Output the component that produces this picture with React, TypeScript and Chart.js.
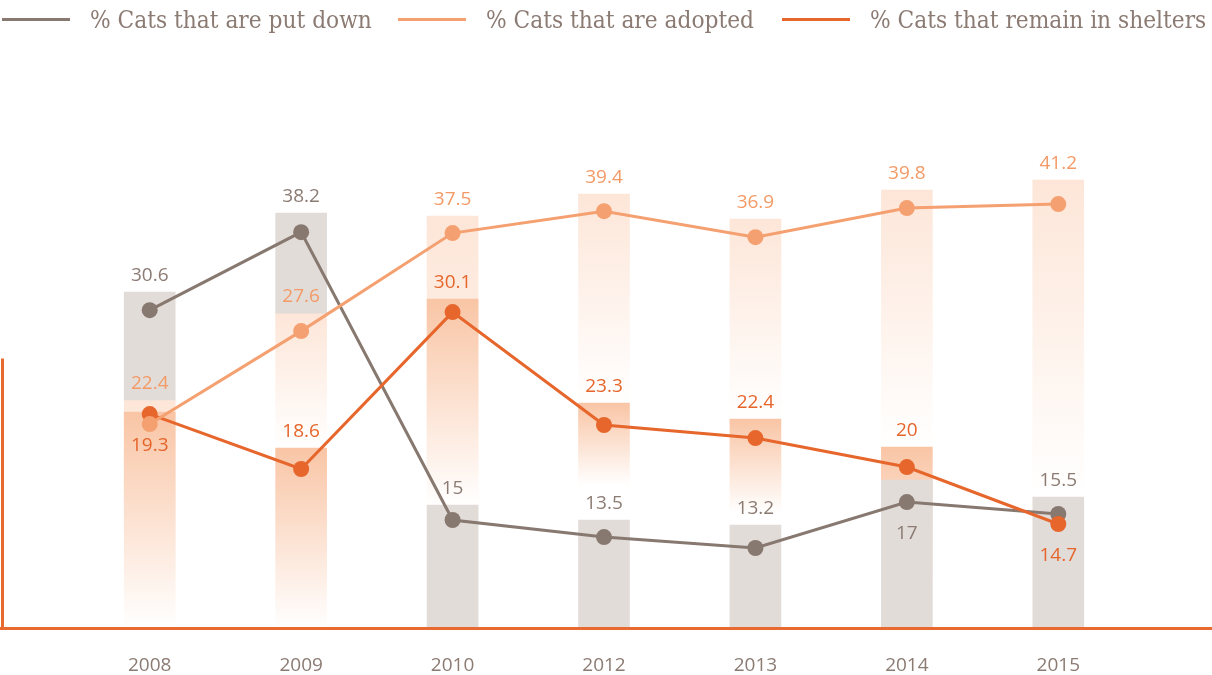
import React, { useEffect, useRef } from "react";
import { Chart, registerables } from "chart.js";

Chart.register(...registerables);

// ---------- data ----------
const years = ["2008", "2009", "2010", "2012", "2013", "2014", "2015"];

const seriesNames = [
  "% Cats that are put down",
  "% Cats that are adopted",
  "% Cats that remain in shelters",
];

// line points
const putDown = [29.25, 36.43, 9.94, 8.37, 7.36, 11.59, 10.49];
const adopted = [18.77, 27.32, 36.34, 38.36, 35.97, 38.64, 39.01];
const remain = [19.69, 14.63, 29.07, 18.68, 17.48, 14.81, 9.57];

// printed values
const putDownText = ["30.6", "38.2", "15", "13.5", "13.2", "17", "15.5"];
const adoptedText = ["22.4", "27.6", "37.5", "39.4", "36.9", "39.8", "41.2"];
const remainText = ["19.3", "18.6", "30.1", "23.3", "22.4", "20", "14.7"];

// column segments behind the lines [from, to]
const putDownBars: ([number, number] | null)[] = [
  [20.98, 30.91], [28.98, 38.18], [0, 11.32], [0, 9.94], [0, 9.48], [0, 13.62], [0, 12.05],
];
const adoptedBars: ([number, number] | null)[] = [
  [0, 20.98], [16.56, 28.98], [0, 37.9], [20.7, 39.93], [19.23, 37.63], [16.65, 40.29], [12.05, 41.21],
];
const remainBars: ([number, number] | null)[] = [
  [0, 19.87], [0, 16.56], [11.32, 30.27], [13.16, 20.7], [10.58, 19.23], [3, 16.65], null,
];

// which printed values sit under their marker
const putDownBelow = [false, false, false, false, false, true, false];
const adoptedBelow = [false, false, false, false, false, false, false];
const remainBelow = [true, false, false, false, false, false, true];

// ---------- styles ----------
const GREY = "#877870";
const LIGHT = "#f5a070";
const ORANGE = "#e6662c";
const GREY_BAR = "#e2dcd9";
const LIGHT_BAR = "#fde6d8";
const ORANGE_BAR = "#f9c5a5";
const AXIS = "#e96a30";
const TEXT = "#8b7b73";
const SANS = '"Open Sans", "Noto Sans", sans-serif';
const SERIF = '"DejaVu Serif", serif';
const LEGEND_STARTS = [2, 398, 782];
const LEGEND_FIRST_WIDTH = 282;

const fade = (topColor: string) => (ctx: any) => {
  const chart = ctx.chart;
  const raw = ctx.raw;
  const y = chart.scales && chart.scales.y;
  if (!raw || !y || !chart.chartArea) return topColor;
  const top = y.getPixelForValue(raw[1]);
  const bot = y.getPixelForValue(raw[0]);
  if (!isFinite(top) || !isFinite(bot) || bot - top < 1) return topColor;
  const g = chart.ctx.createLinearGradient(0, top, 0, bot);
  g.addColorStop(0, topColor);
  g.addColorStop(1, "#ffffff");
  return g;
};

const labelSeries = [
  { bars: putDownBars, line: 3, texts: putDownText, below: putDownBelow, color: "#8b7b73" },
  { bars: adoptedBars, line: 5, texts: adoptedText, below: adoptedBelow, color: "#f39a66" },
  { bars: remainBars, line: 4, texts: remainText, below: remainBelow, color: "#e5652b" },
];

const setLegendFont = (c: any, size: number) => {
  c.font = `${size.toFixed(2)}px ${SERIF}`;
  try {
    c.fontStretch = "condensed";
  } catch (e) {}
};

const decorations = {
  id: "decorations",
  afterDatasetsDraw(chart: any) {
    const c = chart.ctx;
    const area = chart.chartArea;
    const ys = chart.scales.y;
    c.save();
    // axis lines
    c.strokeStyle = AXIS;
    c.lineWidth = 3;
    c.beginPath();
    c.moveTo(0, area.bottom + 0.5);
    c.lineTo(chart.width, area.bottom + 0.5);
    c.moveTo(2.5, area.bottom + 0.5);
    c.lineTo(2.5, ys.getPixelForValue(24.8));
    c.stroke();

    // value labels
    c.font = `19px ${SANS}`;
    c.textAlign = "center";
    c.textBaseline = "alphabetic";
    labelSeries.forEach((s) => {
      const meta = chart.getDatasetMeta(s.line);
      s.texts.forEach((t, j) => {
        const pt = meta.data[j];
        if (!pt) return;
        let cy: number;
        const seg = s.bars[j];
        if (s.below[j] || !seg) cy = pt.y + 30;
        else cy = ys.getPixelForValue(seg[1]) - 18;
        c.fillStyle = s.color;
        c.fillText(t, pt.x, cy + 7);
      });
    });
    c.restore();
  },
  afterDraw(chart: any) {
    const c = chart.ctx;
    c.save();
    const colors = [GREY, LIGHT, ORANGE];
    setLegendFont(c, 27);
    const w = c.measureText(seriesNames[0]).width;
    setLegendFont(c, (27 * LEGEND_FIRST_WIDTH) / w);
    c.textBaseline = "alphabetic";
    c.textAlign = "left";
    seriesNames.forEach((name, i) => {
      const x = LEGEND_STARTS[i];
      c.strokeStyle = colors[i];
      c.lineWidth = 3;
      c.beginPath();
      c.moveTo(x, 19.5);
      c.lineTo(x + 68, 19.5);
      c.stroke();
      c.fillStyle = TEXT;
      c.fillText(name, x + 88, 28);
    });
    c.restore();
  },
};

export default function App() {
  const ref = useRef<HTMLCanvasElement>(null);
  useEffect(() => {
    const canvas = ref.current;
    if (!canvas) return;
    const bar = (data: any, color: string, order: number, solid: boolean) => ({
      type: "bar" as const,
      data,
      backgroundColor: solid ? color : fade(color),
      borderWidth: 0,
      grouped: false,
      barThickness: 51,
      order,
    });
    const line = (label: string, data: number[], color: string, order: number) => ({
      type: "line" as const,
      label,
      data,
      borderColor: color,
      backgroundColor: color,
      borderWidth: 3,
      pointRadius: 8,
      pointHoverRadius: 8,
      pointBorderWidth: 0,
      pointBackgroundColor: color,
      tension: 0,
      fill: false,
      order,
    });
    const chart = new Chart(canvas, {
      type: "bar",
      data: {
        labels: years,
        datasets: [
          bar(adoptedBars, LIGHT_BAR, 6, false),
          bar(remainBars, ORANGE_BAR, 5, false),
          bar(putDownBars, GREY_BAR, 4, true),
          line(seriesNames[0], putDown, GREY, 3),
          line(seriesNames[2], remain, ORANGE, 2),
          line(seriesNames[1], adopted, LIGHT, 1),
        ] as any,
      },
      options: {
        animation: false,
        responsive: true,
        maintainAspectRatio: false,
        layout: { padding: { top: 139, left: 74, right: 78, bottom: 0 } },
        plugins: { legend: { display: false }, tooltip: { enabled: false } },
        scales: {
          x: {
            grid: { display: false, drawTicks: false },
            border: { display: false },
            ticks: { color: TEXT, font: { family: SANS, size: 19 }, padding: 26 },
            afterFit: (s: any) => {
              s.height = 47;
            },
          },
          y: { display: false, min: 0, max: 45 },
        },
      } as any,
      plugins: [decorations],
    });
    return () => chart.destroy();
  }, []);
  return (
    <div style={{ position: "fixed", left: 0, top: 0, width: 1212, height: 675, background: "#fff" }}>
      <canvas ref={ref} />
    </div>
  );
}
